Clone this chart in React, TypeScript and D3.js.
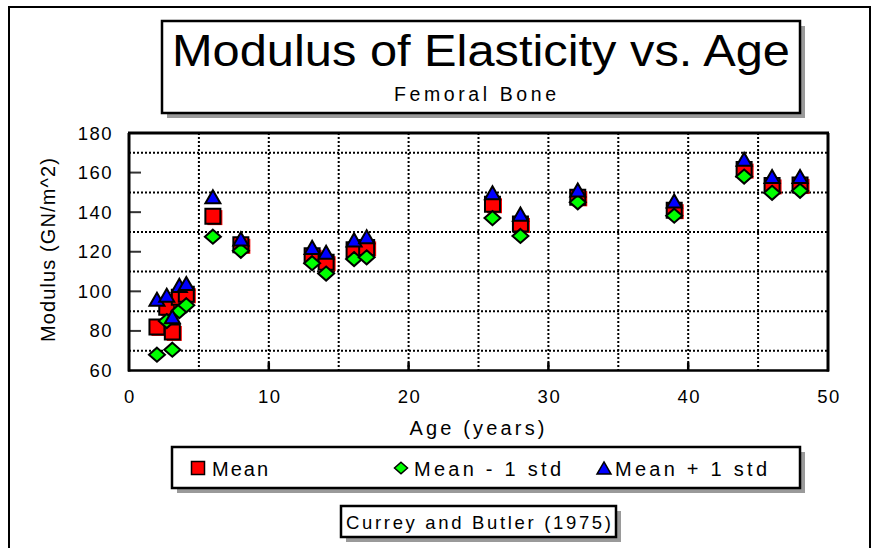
import React from "react";
import * as d3 from "d3";

// ---- data ----
const ages = [2, 2.7, 3.1, 3.6, 4.1, 6, 8, 13.1, 14.1, 16.1, 17, 26, 28, 32.1, 39, 44, 46, 48];
const meanValues = [82, 92, 79.5, 97, 98.5, 138, 123.5, 118, 114.7, 121, 122.2, 144, 134, 147.5, 141, 161.5, 153.5, 153.7];
const minusValues = [68, 85, 70.5, 90, 93, 127.6, 120.5, 114.2, 109, 116.3, 117.2, 137, 128, 145, 138.2, 158, 149.8, 150.8];
const plusValues = [96, 98, 87.2, 103, 104, 147.8, 126.5, 122.2, 119.7, 126, 127.6, 149.8, 139, 151.2, 145.6, 166.7, 158, 158];

const xTickLabels = [0, 10, 20, 30, 40, 50];
const yTickLabels = [60, 80, 100, 120, 140, 160, 180];
const xGridValues = [5, 10, 15, 20, 25, 30, 35, 40, 45];
const yGridValues = [70, 90, 110, 130, 150, 170];
const xTickMarks = [10, 20, 30, 40];
const yTickMarks = [80, 100, 120, 140, 160];

const titleText = "Modulus of Elasticity vs. Age";
const subtitleText = "Femoral Bone";
const xTitle = "Age (years)";
const yTitle = "Modulus (GN/m^2)";
const sourceText = "Currey and Butler (1975)";
const seriesNames = ["Mean", "Mean - 1 std", "Mean + 1 std"];

const FONT = "'Liberation Sans', Arial, Helvetica, sans-serif";

// custom symbol types (size = width^2)
const squareType = {
  draw(ctx: any, size: number) {
    const w = Math.sqrt(size) / 2;
    ctx.moveTo(-w, -w);
    ctx.lineTo(w, -w);
    ctx.lineTo(w, w);
    ctx.lineTo(-w, w);
    ctx.closePath();
  },
};
const diamondType = {
  draw(ctx: any, size: number) {
    const w = Math.sqrt(size) / 2;
    const h = w * 0.88;
    ctx.moveTo(0, -h);
    ctx.lineTo(w, 0);
    ctx.lineTo(0, h);
    ctx.lineTo(-w, 0);
    ctx.closePath();
  },
};
const triangleType = {
  draw(ctx: any, size: number) {
    const w = Math.sqrt(size) / 2;
    const h = w * 0.87;
    ctx.moveTo(0, -h);
    ctx.lineTo(w, h);
    ctx.lineTo(-w, h);
    ctx.closePath();
  },
};

export default function App() {
  const W = 878;
  const H = 548;
  const x = d3.scaleLinear().domain([0, 50]).range([129, 828]);
  const y = d3.scaleLinear().domain([60, 180]).range([370.5, 133]);

  const sq = d3.symbol().type(squareType as any).size(15 * 15)();
  const dm = d3.symbol().type(diamondType as any).size(16 * 16)();
  const tr = d3.symbol().type(triangleType as any).size(15 * 15)();
  const sqL = d3.symbol().type(squareType as any).size(13 * 13)();
  const dmL = d3.symbol().type(diamondType as any).size(13 * 13)();
  const trL = d3.symbol().type(triangleType as any).size(14 * 14)();

  const x0 = x.range()[0];
  const x1 = x.range()[1];
  const yTop = y.range()[1];
  const yBot = y.range()[0];

  const shadowBox = (bx: number, by: number, bw: number, bh: number) => (
    <g>
      <rect x={bx + 5} y={by + 5} width={bw} height={bh} fill="#9a9a9a" />
      <rect x={bx} y={by} width={bw} height={bh} fill="#fff" stroke="#000" strokeWidth={2.5} />
    </g>
  );

  return (
    <svg width={W} height={H} style={{ position: "absolute", left: 0, top: 0, background: "#fff" }} fontFamily={FONT}>
      <rect x={0} y={0} width={W} height={H} fill="#fff" />
      {/* outer frame */}
      <rect x={9} y={7} width={861} height={600} fill="none" stroke="#000" strokeWidth={2} />

      {/* title box */}
      {shadowBox(162, 21, 638, 92)}
      <text x={481} y={66} fontSize={45} textAnchor="middle" textLength={618} lengthAdjust="spacingAndGlyphs">
        {titleText}
      </text>
      <text x={475} y={101} fontSize={19.5} textAnchor="middle" textLength={162} lengthAdjust="spacing">
        {subtitleText}
      </text>

      {/* grid */}
      {yGridValues.map((v) => (
        <line key={"gy" + v} x1={x0} x2={x1} y1={y(v)} y2={y(v)} stroke="#000" strokeWidth={2} strokeDasharray="2,2" />
      ))}
      {xGridValues.map((v) => (
        <line key={"gx" + v} x1={x(v)} x2={x(v)} y1={yTop} y2={yBot} stroke="#000" strokeWidth={2} strokeDasharray="2,2" />
      ))}

      {/* tick marks */}
      {yTickMarks.map((v) => (
        <line key={"ty" + v} x1={x0} x2={x0 + 12} y1={y(v)} y2={y(v)} stroke="#333" strokeWidth={2} />
      ))}
      {xTickMarks.map((v) => (
        <line key={"tx" + v} x1={x(v)} x2={x(v)} y1={yBot - 8} y2={yBot} stroke="#000" strokeWidth={2.5} />
      ))}

      {/* frame of plot */}
      <line x1={x0 - 1} x2={x1 + 1} y1={yTop} y2={yTop} stroke="#000" strokeWidth={3} />
      <line x1={x0 - 1} x2={x1 + 1} y1={yBot} y2={yBot} stroke="#000" strokeWidth={2.5} />
      <line x1={x0} x2={x0} y1={yTop} y2={yBot + 1} stroke="#000" strokeWidth={3} />
      <line x1={x1} x2={x1} y1={yTop} y2={yBot + 1} stroke="#000" strokeWidth={3} />

      {/* tick labels */}
      {yTickLabels.map((v) => (
        <text key={"ly" + v} x={113} y={y(v) + 6.5} fontSize={18.5} textAnchor="end" letterSpacing={1.5}>
          {v}
        </text>
      ))}
      {xTickLabels.map((v) => (
        <text key={"lx" + v} x={x(v) + 1} y={403} fontSize={18.5} textAnchor="middle" letterSpacing={1.5}>
          {v}
        </text>
      ))}

      {/* axis titles */}
      <text x={477} y={435} fontSize={20} textAnchor="middle" textLength={135} lengthAdjust="spacing">
        {xTitle}
      </text>
      <text
        transform={`translate(55,250) rotate(-90)`}
        fontSize={20}
        textAnchor="middle"
        textLength={184}
        lengthAdjust="spacing"
      >
        {yTitle}
      </text>

      {/* markers: mean squares */}
      {ages.map((a, i) => (
        <g key={"m" + i} transform={`translate(${x(a)},${y(meanValues[i])})`}>
          <path d={sq!} transform="translate(2,1.5)" fill="#ff0000" />
          <path d={sq!} fill="#ff0000" stroke="#000" strokeWidth={2} />
        </g>
      ))}
      {ages.map((a, i) => (
        <path key={"n" + i} d={dm!} transform={`translate(${x(a)},${y(minusValues[i])})`} fill="#00ff00" stroke="#000" strokeWidth={2} />
      ))}
      {ages.map((a, i) => (
        <path key={"p" + i} d={tr!} transform={`translate(${x(a)},${y(plusValues[i])})`} fill="#0000ff" stroke="#000" strokeWidth={2} />
      ))}

      {/* legend */}
      {shadowBox(172, 447, 628, 41)}
      <path d={sqL!} transform="translate(198,468)" fill="#ff0000" stroke="#000" strokeWidth={1.5} />
      <text x={212} y={476} fontSize={20} textLength={56} lengthAdjust="spacing">{seriesNames[0]}</text>
      <path d={dmL!} transform="translate(401,468)" fill="#00ff00" stroke="#000" strokeWidth={1.5} />
      <text x={414} y={476} fontSize={20} textLength={147} lengthAdjust="spacing">{seriesNames[1]}</text>
      <path d={trL!} transform="translate(604,468)" fill="#0000ff" stroke="#000" strokeWidth={1.5} />
      <text x={615} y={476} fontSize={20} textLength={152} lengthAdjust="spacing">{seriesNames[2]}</text>

      {/* source box */}
      {shadowBox(341, 506, 275, 31)}
      <text x={478.5} y={529} fontSize={18.5} textAnchor="middle" textLength={265} lengthAdjust="spacing">
        {sourceText}
      </text>
    </svg>
  );
}
